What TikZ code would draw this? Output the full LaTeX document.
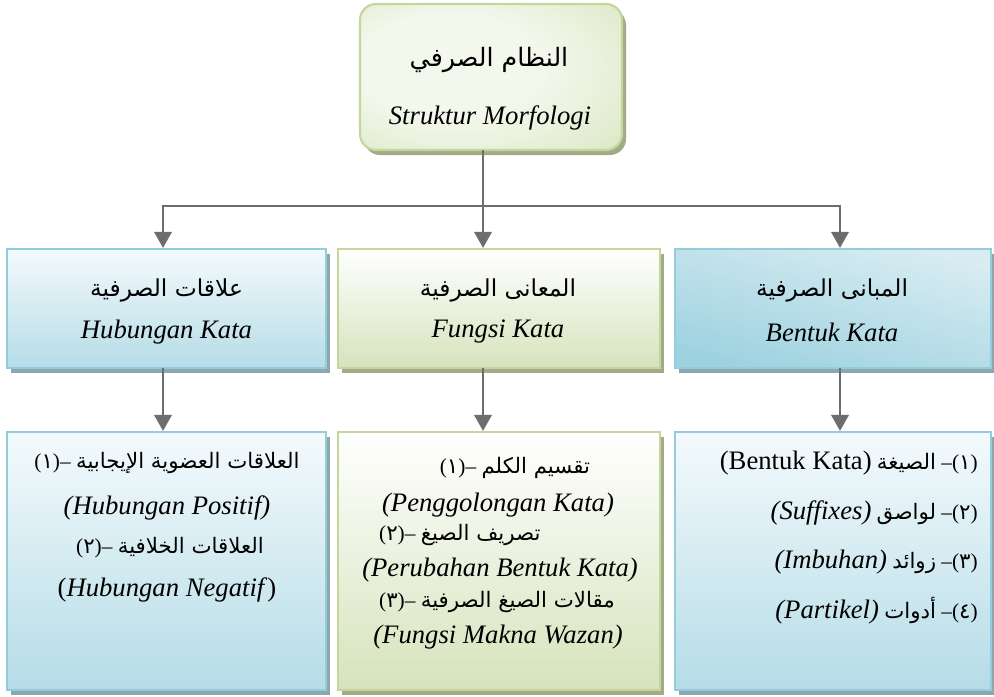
\documentclass[tikz,border=0pt]{standalone}
\usepackage{fontspec}
\setmainfont{Liberation Serif}
\newfontfamily\arabicfont[Script=Arabic]{DejaVu Sans}
\TeXXeTstate=1
\usetikzlibrary{arrows.meta,shadows}

\definecolor{blueline}{HTML}{93CDDD}
\definecolor{greenline}{HTML}{C3D69B}
\definecolor{bluetop}{HTML}{F4FAFC}
\definecolor{bluebot}{HTML}{B5DCE7}
\definecolor{bluediagA}{HTML}{D8ECF2}
\definecolor{bluediagB}{HTML}{E2F1F5}
\definecolor{bluediagC}{HTML}{9ED2E0}
\definecolor{greentop}{HTML}{FFFFFF}
\definecolor{greenbot}{HTML}{D6E3BC}
\definecolor{blueshadow}{HTML}{8DA7AF}
\definecolor{greenshadow}{HTML}{A3AA88}
\definecolor{conncol}{HTML}{6D6D6D}
\definecolor{glowin}{HTML}{F3F7EC}
\definecolor{glowmid}{HTML}{E2ECCF}
\definecolor{glowout}{HTML}{C6D99C}

\pgfdeclareradialshading{topglow}{\pgfpoint{-12bp}{6bp}}{%
  color(0bp)=(glowin); color(18bp)=(glowin); color(34bp)=(glowmid); color(52bp)=(glowout)}

% Arabic text, set right to left
\newcommand{\artxt}[1]{{\arabicfont\beginR #1\endR}}
% list number "(n)–" placed before the Arabic words
\newcommand{\lnum}[1]{{\rmfamily(}{\arabicfont #1}{\rmfamily)–}}
% list number "–(n)" placed after the Arabic words
\newcommand{\rnum}[1]{{\rmfamily–(}{\arabicfont #1}{\rmfamily)}}
% Latin words in the list lines
\newcommand{\latin}[1]{{\rmfamily\fontsize{20}{24}\selectfont #1}}

\begin{document}
\begin{tikzpicture}[x=0.75pt,y=-0.75pt,
  box/.style={rectangle, draw, line width=1.6pt, inner sep=0pt},
  bluebox/.style={box, draw=blueline, top color=bluetop, bottom color=bluebot,
    drop shadow={shadow xshift=3pt, shadow yshift=-3.75pt, fill=blueshadow, opacity=1}},
  bluediag/.style={box, draw=blueline, top color=bluediagA, middle color=bluediagB,
    bottom color=bluediagC, shading angle=-15,
    drop shadow={shadow xshift=3pt, shadow yshift=-3.75pt, fill=blueshadow, opacity=1}},
  greenbox/.style={box, draw=greenline, top color=greentop, bottom color=greenbot,
    drop shadow={shadow xshift=3pt, shadow yshift=-3.75pt, fill=greenshadow, opacity=1}},
  rootbox/.style={box, draw=greenline, rounded corners=12pt, shading=topglow,
    drop shadow={shadow xshift=3pt, shadow yshift=-3.75pt, fill=greenshadow, opacity=1}},
  midsize/.style={minimum height=89.25pt},
  lowsize/.style={minimum height=193.5pt},
  lat/.style={inner sep=0pt, font=\fontsize{20}{24}\selectfont},
  arb/.style={inner sep=0pt, font=\fontsize{16}{20}\selectfont},
  arbmid/.style={inner sep=0pt, font=\fontsize{17.5}{21}\selectfont},
  conn/.style={draw=conncol, line width=1.9pt, line cap=rect},
  arr/.style={conn, -{Triangle[width=13pt,length=12pt]}}
]
\useasboundingbox (0,0) rectangle (994,696);

% root
\node[rootbox, minimum width=196.5pt, minimum height=109.5pt] (top) at (491,77) {};
\node[inner sep=0pt, font=\fontsize{19}{23}\selectfont] (topar) at (489,60) {\artxt{النظام الصرفي}};
\node[lat] (toplat) at (490,118) {\itshape Struktur Morfologi};

% second row
\node[bluebox, midsize, minimum width=239.25pt] (m1) at (166.5,308.5) {};
\node[greenbox, midsize, minimum width=241.5pt] (m2) at (499,308.5) {};
\node[bluediag, midsize, minimum width=237pt] (m3) at (833,308.5) {};

\node[arbmid] (m1ar) at (166.5,290) {\artxt{علاقات الصرفية}};
\node[lat] (m1lat) at (166.5,332) {\itshape Hubungan Kata};
\node[arbmid] (m2ar) at (498,290) {\artxt{المعانى الصرفية}};
\node[lat] (m2lat) at (498,332) {\itshape Fungsi Kata};
\node[arbmid] (m3ar) at (832,290) {\artxt{المبانى الصرفية}};
\node[lat] (m3lat) at (832,332) {\itshape Bentuk Kata};

% third row
\node[bluebox, lowsize, minimum width=239.25pt] (b1) at (166.5,561) {};
\node[greenbox, lowsize, minimum width=241.5pt] (b2) at (499,561) {};
\node[bluebox, lowsize, minimum width=237pt] (b3) at (833,561) {};

% relations
\node[arb] (b1l1) at (167,463) {\lnum{١} \artxt{العلاقات العضوية الإيجابية}};
\node[lat] (b1l2) at (167,508) {\itshape (Hubungan Positif)};
\node[arb] (b1l3) at (170,548) {\lnum{٢} \artxt{العلاقات الخلافية}};
\node[lat] (b1l4) at (167,590) {(\textit{Hubungan Negatif})};

% functions
\node[arb] (b2l5) at (497,602) {\lnum{٣} \artxt{مقالات الصيغ الصرفية}};
\node[arb] (b2l1) at (515,468) {\lnum{١} \artxt{تقسيم الكلم}};
\node[arb, anchor=west] (b2l3) at (b2l5.west |- 0,535) {\lnum{٢} \artxt{تصريف الصيغ}};
\node[lat] (b2l2) at (498,505) {\itshape (Penggolongan Kata)};
\node[lat] (b2l4) at (500,570) {\itshape (Perubahan Bentuk Kata)};
\node[lat] (b2l6) at (498,637) {\itshape (Fungsi Makna Wazan)};

% forms
\node[arb, anchor=east] (b3l1) at (978,463) {\latin{(Bentuk Kata)} \artxt{الصيغة} \rnum{١}};
\node[arb, anchor=east] (b3l2) at (978,513) {\latin{\itshape (Suffixes)} \artxt{لواصق} \rnum{٢}};
\node[arb, anchor=east] (b3l3) at (978,562) {\latin{\itshape (Imbuhan)} \artxt{زوائد} \rnum{٣}};
\node[arb, anchor=east] (b3l4) at (978,611) {\latin{\itshape (Partikel)} \artxt{أدوات} \rnum{٤}};

% connectors
\coordinate (c1) at (163,206);
\coordinate (c2) at (483,206);
\coordinate (c3) at (840,206);
\draw[conn] (top.south -| c2) -- (c2);
\draw[conn] (c1) -- (c3);
\draw[arr] (c1) -- (m1.north -| c1);
\draw[arr] (c2) -- (m2.north -| c2);
\draw[arr] (c3) -- (m3.north -| c3);
\draw[arr] (m1.south -| c1) -- (b1.north -| c1);
\draw[arr] (m2.south -| c2) -- (b2.north -| c2);
\draw[arr] (m3.south -| c3) -- (b3.north -| c3);
\end{tikzpicture}
\end{document}
